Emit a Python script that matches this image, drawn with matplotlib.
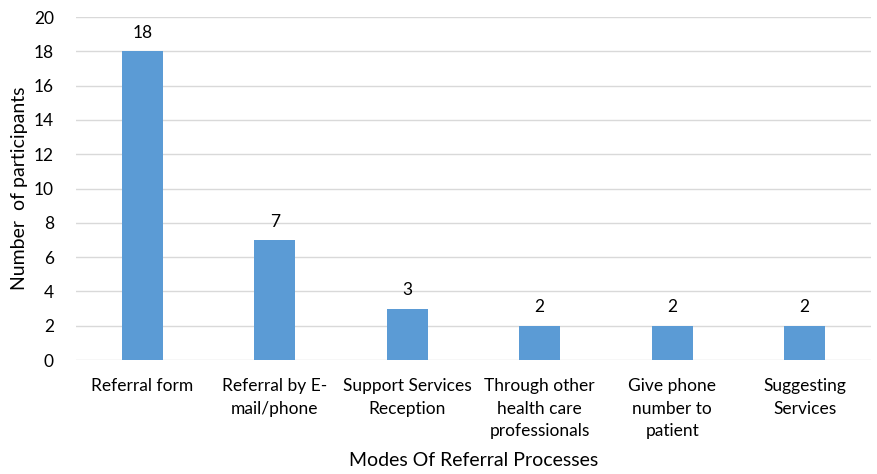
import matplotlib.pyplot as plt

plt.rcParams['font.family'] = ['Lato', 'DejaVu Sans']

categories = ["Referral form", "Referral by E-\nmail/phone", "Support Services\nReception",
              "Through other\nhealth care\nprofessionals", "Give phone\nnumber to\npatient",
              "Suggesting\nServices"]
participants = [18, 7, 3, 2, 2, 2]

fig = plt.figure(figsize=(8.77, 4.74), dpi=100)
ax = fig.add_axes([0.0867, 0.2405, 0.9063, 0.7235])

x = range(len(categories))
bars = ax.bar(x, participants, width=0.31, color='#5B9BD5', zorder=3)
for b, v in zip(bars, participants):
    ax.text(b.get_x() + b.get_width() / 2, v + 0.6, str(v), ha='center', va='bottom', fontsize=12.5)

ax.set_xlim(-0.5, len(categories) - 0.5)
ax.set_ylim(0, 20)
ax.set_yticks(range(0, 21, 2))
ax.set_xticks(list(x))
ax.set_xticklabels(categories, fontsize=12.5, linespacing=1.5)
ax.tick_params(axis='y', labelsize=12.5, length=0, pad=16)
ax.tick_params(axis='x', length=0, pad=13)
ax.grid(axis='y', color='#D9D9D9', linewidth=1, zorder=0)
for s in ax.spines.values():
    s.set_visible(False)

ax.set_xlabel("Modes Of Referral Processes", fontsize=14, labelpad=9)
ax.set_ylabel("Number  of participants", fontsize=14, labelpad=4)

fig.savefig("out.png")
